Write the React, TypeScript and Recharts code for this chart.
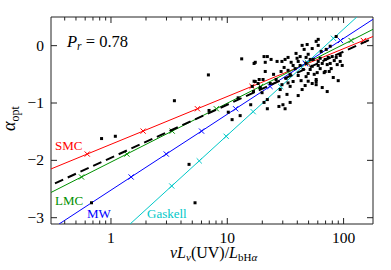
import { ComposedChart, Scatter, XAxis, YAxis, ReferenceArea } from "recharts";

// axis ranges / ticks
const X_DOMAIN = [0.305, 179];
const Y_DOMAIN = [-3.11, 0.5];
const X_TICKS = [0.4, 0.5, 0.6, 0.7, 0.8, 0.9, 1, 2, 3, 4, 5, 6, 7, 8, 9, 10, 20, 30, 40, 50, 60, 70, 80, 90, 100];
const X_LABELED = [1, 10, 100];
const Y_TICKS = [-3, -2, -1, 0];

// extinction curves: ends + tick marks (m = 1)
const smc = [
  { x: 0.305, y: -2.15 },
  { x: 0.625, y: -1.89, m: 1 },
  { x: 1.89, y: -1.49, m: 1 },
  { x: 5.54, y: -1.1, m: 1 },
  { x: 16.3, y: -0.71, m: 1 },
  { x: 49.1, y: -0.31, m: 1 },
  { x: 148, y: 0.09, m: 1 },
  { x: 179, y: 0.16 },
];
const lmc = [
  { x: 0.305, y: -2.56 },
  { x: 0.558, y: -2.29, m: 1 },
  { x: 1.37, y: -1.89, m: 1 },
  { x: 3.36, y: -1.49, m: 1 },
  { x: 8.05, y: -1.1, m: 1 },
  { x: 19.3, y: -0.71, m: 1 },
  { x: 47.3, y: -0.31, m: 1 },
  { x: 116, y: 0.09, m: 1 },
  { x: 179, y: 0.285 },
];
const mw = [
  { x: 0.358, y: -3.11 },
  { x: 1.49, y: -2.29, m: 1 },
  { x: 2.99, y: -1.89, m: 1 },
  { x: 6.01, y: -1.49, m: 1 },
  { x: 11.8, y: -1.1, m: 1 },
  { x: 23.3, y: -0.71, m: 1 },
  { x: 46.8, y: -0.31, m: 1 },
  { x: 94, y: 0.09, m: 1 },
  { x: 179, y: 0.46 },
];
const gaskell = [
  { x: 1.46, y: -3.11 },
  { x: 3.33, y: -2.447, m: 1 },
  { x: 5.74, y: -2.009, m: 1 },
  { x: 9.78, y: -1.58, m: 1 },
  { x: 16.7, y: -1.151, m: 1 },
  { x: 28.8, y: -0.713, m: 1 },
  { x: 48.7, y: -0.29, m: 1 },
  { x: 81.8, y: 0.128, m: 1 },
  { x: 130, y: 0.5 },
];
const fit = [
  { x: 0.33, y: -2.4 },
  { x: 179, y: 0.13 },
];

// galaxies: [vLv(UV)/L_bHa, alpha_opt]
const galaxies = [
  [0.83, -1.62], [1.09, -1.58], [0.68, -2.74], [3.51, -0.96], [4.69, -2.07], [5.28, -2.74],
  [6.88, -0.51], [13.3, -0.23], [6.97, -1.13], [10.2, -1.16], [11.0, -1.29], [12.9, -1.22],
  [12.4, -0.91], [15.9, -1.03], [16.8, -0.8], [17.0, -0.62], [17.0, -0.31],
  [17.4, -0.29], [20.7, -0.19], [21.2, -0.29], [22.1, -0.19], [23.8, -0.24], [26.8, -0.275],
  [29.5, -0.275], [31.4, -0.24], [21.2, -0.45], [25.0, -0.5], [18.8, -0.59], [18.4, -0.66],
  [16.4, -0.71], [19.9, -0.82], [19.2, -0.73], [22.1, -0.94], [27.8, -0.89], [32.6, -0.85],
  [30.1, -1.03], [34.7, -0.99], [27.8, -1.06], [22.1, -1.1], [31.4, -1.1], [40.7, -0.87],
  [44.0, -0.765], [29.5, -0.68], [36.8, -0.625], [34.7, -0.5], [33.3, -0.43], [39.0, -0.135],
  [39.8, -0.22], [44.0, 0.005], [48.6, 0.02], [45.8, -0.065], [53.7, -0.05], [58.1, 0.075],
  [60.5, 0.005], [49.6, -0.15], [86.4, 0.16], [62.9, -0.22], [69.5, -0.24], [73.7, -0.205],
  [79.8, -0.19], [83.1, -0.26], [93.5, -0.275], [72.3, -0.33], [88.1, -0.33], [69.5, -0.45],
  [62.9, -0.4], [59.3, -0.47], [55.9, -0.5], [58.1, -0.59], [58.1, -0.625], [49.6, -0.485],
  [81.5, -0.555], [89.9, -0.61], [68.1, -0.47], [75.2, -0.45], [40.7, -0.275], [42.3, -0.345],
  [44.9, -0.415], [47.6, -0.31], [51.6, -0.24], [53.7, -0.36], [36.8, -0.345], [35.4, -0.29],
  [38.3, -0.4], [40.7, -0.52], [43.1, -0.61], [46.7, -0.695], [32.0, -0.57], [28.5, -0.765],
  [64.2, -0.1], [70.9, -0.065], [76.7, -0.01], [93.5, -0.17], [97.3, -0.345], [86.4, -0.205],
  [65.5, -0.73], [72.3, -0.8], [60.5, 0.11], [30.8, -0.38], [29.0, -0.45], [26.3, -0.59],
  [23.4, -0.66], [33.3, -0.205], [42.3, -0.19], [47.6, -0.205], [54.8, -0.24], [60.5, -0.275],
  [65.5, -0.31], [76.7, -0.31], [78.2, -0.4], [51.6, -0.415], [47.6, -0.54], [53.7, -0.66],
  [60.5, -0.345], [20.7, -0.99], [17.4, -0.625], [20.3, -0.59], [49.6, -0.62], [58.1, -0.68],
  [33.3, -0.65], [34.7, -0.71],
].map(([x, y]) => ({ x, y }));

const W = 391;
const H = 270;
const TOP = 17;
const RIGHT = 18;
const LEFT_W = 51;
const BOTTOM_H = 46;
const PLOT_L = LEFT_W;
const PLOT_R = W - RIGHT;
const PLOT_B = H - BOTTOM_H;
const SERIF = "'Liberation Serif', 'DejaVu Serif', serif";
const AXIS = "#222";

const RED = "#ff0000";
const GREEN = "#009000";
const BLUE = "#0000ff";
const CYAN = "#00c8c8";

function XTick(props: any) {
  const { x, payload } = props;
  const major = X_LABELED.includes(payload.value);
  const len = major ? 6 : 3.5;
  return (
    <g>
      <line x1={x} x2={x} y1={PLOT_B} y2={PLOT_B - len} stroke={AXIS} />
      <line x1={x} x2={x} y1={TOP} y2={TOP + len} stroke={AXIS} />
      {major && (
        <text x={x} y={PLOT_B + 19} textAnchor="middle" fontSize={15.5} fontFamily={SERIF} fill="#000">
          {payload.value}
        </text>
      )}
    </g>
  );
}

function YTick(props: any) {
  const { y, payload } = props;
  const v = payload.value;
  return (
    <g>
      <line x1={PLOT_L} x2={PLOT_L + 6} y1={y} y2={y} stroke={AXIS} />
      <line x1={PLOT_R} x2={PLOT_R - 6} y1={y} y2={y} stroke={AXIS} />
      <text x={44} y={y + 5} textAnchor="end" fontSize={15.5} fontFamily={SERIF} fill="#000">
        {v < 0 ? `\u2212${-v}` : v}
      </text>
    </g>
  );
}

function markerShape(color: string) {
  return (props: any) => {
    const { cx, cy, payload } = props;
    if (!payload || !payload.m) return <g />;
    const s = 2.6;
    return (
      <g stroke={color} strokeWidth={1}>
        <line x1={cx - s} y1={cy - s} x2={cx + s} y2={cy + s} />
        <line x1={cx - s} y1={cy + s} x2={cx + s} y2={cy - s} />
      </g>
    );
  };
}

function dotShape(props: any) {
  const { cx, cy } = props;
  return <rect x={cx - 1.5} y={cy - 1.5} width={3} height={3} fill="#000" />;
}

const curves = [
  { data: smc, color: RED },
  { data: lmc, color: GREEN },
  { data: mw, color: BLUE },
  { data: gaskell, color: CYAN },
];

export default function App() {
  return (
    <div style={{ position: "absolute", left: 0, top: 0, width: W, height: H, background: "#fff" }}>
      <ComposedChart width={W} height={H} margin={{ top: TOP, right: RIGHT, bottom: 0, left: 0 }}>
        <XAxis
          type="number"
          dataKey="x"
          scale="log"
          domain={X_DOMAIN}
          allowDataOverflow
          ticks={X_TICKS}
          interval={0}
          tick={XTick}
          tickLine={false}
          axisLine={false}
          height={BOTTOM_H}
        />
        <YAxis
          type="number"
          dataKey="y"
          domain={Y_DOMAIN}
          allowDataOverflow
          ticks={Y_TICKS}
          interval={0}
          tick={YTick}
          tickLine={false}
          axisLine={false}
          width={LEFT_W}
        />
        <ReferenceArea
          x1={X_DOMAIN[0]}
          x2={X_DOMAIN[1]}
          y1={Y_DOMAIN[0]}
          y2={Y_DOMAIN[1]}
          fill="none"
          stroke={AXIS}
          strokeWidth={1}
          fillOpacity={0}
        />
        {curves.map((c, i) => (
          <Scatter
            key={i}
            data={c.data}
            line={{ stroke: c.color, strokeWidth: 1 }}
            shape={markerShape(c.color)}
            isAnimationActive={false}
          />
        ))}
        <Scatter
          data={fit}
          line={{ stroke: "#000", strokeWidth: 2, strokeDasharray: "9 5" }}
          shape={() => <g />}
          isAnimationActive={false}
        />
        <Scatter data={galaxies} shape={dotShape} isAnimationActive={false} />
      </ComposedChart>
      <svg width={W} height={H} style={{ position: "absolute", left: 0, top: 0, pointerEvents: "none" }}>
        <g fontFamily={SERIF}>
          <text x={67} y={47} fontSize={16.5} fill="#000">
            <tspan fontStyle="italic">P</tspan>
            <tspan fontStyle="italic" fontSize={11.5} dy={3}>r</tspan>
            <tspan dy={-3}> = 0.78</tspan>
          </text>
          <text x={55} y={150} fontSize={13} fill={RED}>SMC</text>
          <text x={55} y={205} fontSize={13} fill={GREEN}>LMC</text>
          <text x={87} y={218} fontSize={13} fill={BLUE}>MW</text>
          <text x={147} y={218} fontSize={13} fill={CYAN}>Gaskell</text>
          <text x={170} y={258} fontSize={16} fill="#000">
            <tspan fontStyle="italic">νL</tspan>
            <tspan fontStyle="italic" fontSize={11} dy={3}>ν</tspan>
            <tspan dy={-3}>(UV)/</tspan>
            <tspan fontStyle="italic">L</tspan>
            <tspan fontSize={11} dy={3}>bH</tspan>
            <tspan fontSize={11} fontStyle="italic">α</tspan>
          </text>
          <text transform="translate(15,131) rotate(-90)" fontSize={18} fill="#000">
            <tspan fontStyle="italic">α</tspan>
            <tspan fontSize={12} dy={4}>opt</tspan>
          </text>
        </g>
      </svg>
    </div>
  );
}
